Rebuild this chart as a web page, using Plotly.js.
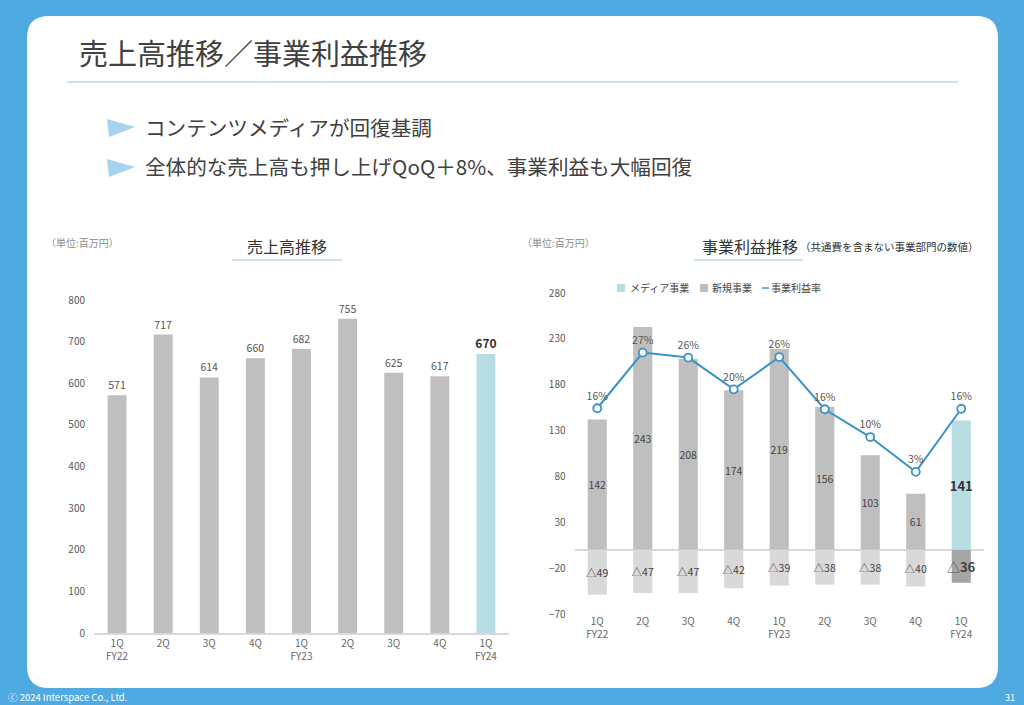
<!DOCTYPE html>
<html>
<head>
<meta charset="utf-8">
<script src="https://cdn.plot.ly/plotly-3.0.1.min.js"></script>
<style>
html,body{margin:0;padding:0;background:#4FAAE2;}
#chart{width:1024px;height:705px;}
</style>
</head>
<body>
<div id="chart"></div>
<script>
// ---- data ----
const quarters = ['1Q','2Q','3Q','4Q','1Q','2Q','3Q','4Q','1Q'];
const fiscalYears = ['FY22','','','','FY23','','','','FY24'];
const sales = [571, 717, 614, 660, 682, 755, 625, 617, 670];
const profitPositive = [142, 243, 208, 174, 219, 156, 103, 61, 141];
const profitNegative = [-49, -47, -47, -42, -39, -38, -38, -40, -36];
const profitRate = [15.8, 27.0, 26.0, 19.6, 26.1, 15.6, 10.0, 3.0, 15.7];
const salesTicks = [0, 100, 200, 300, 400, 500, 600, 700, 800];
const profitTicks = [-70, -20, 30, 80, 130, 180, 230, 280];
const titleText = '売上高推移／事業利益推移';
const bullets = ['コンテンツメディアが回復基調', '全体的な売上高も押し上げQoQ＋8%、事業利益も大幅回復'];
const legendNames = ['メディア事業', '新規事業', '事業利益率'];

// ---- helpers ----
const W = 1024, H = 705;
const X = px => px / W;
const Y = py => 1 - py / H;
const FONT = '"Noto Sans CJK JP", "Noto Sans", sans-serif';
const idx = quarters.map((_, i) => i);
const tickText = quarters.map((q, i) => fiscalYears[i] ? q + '<br>' + fiscalYears[i] : q);
const last = quarters.length - 1;

const GRAY = '#BFBFBF', LIGHTBLUE = '#B8DDE3', NEG = '#D9D9D9', NEGDARK = '#A6A6A6', LINE = '#3A93C8';

// ---- traces ----
const traces = [];
traces.push({
  type: 'bar', x: idx, y: sales, xaxis: 'x', yaxis: 'y', width: 0.41,
  marker: { color: sales.map((v, i) => i === last ? LIGHTBLUE : GRAY) },
  text: sales.map((v, i) => i === last ? '<b>' + v + '</b>' : String(v)),
  textposition: 'outside', cliponaxis: false, constraintext: 'none',
  textfont: { family: FONT, size: sales.map((v, i) => i === last ? 12 : 10.5), color: sales.map((v, i) => i === last ? '#333333' : '#555555') },
  hoverinfo: 'none', showlegend: false
});
traces.push({
  type: 'bar', x: idx, y: profitPositive, xaxis: 'x2', yaxis: 'y2', width: 0.42,
  marker: { color: profitPositive.map((v, i) => i === last ? LIGHTBLUE : GRAY) },
  text: profitPositive.map((v, i) => i === last ? '<b>' + v + '</b>' : String(v)),
  textposition: 'inside', insidetextanchor: 'middle', textangle: 0, constraintext: 'none',
  textfont: { family: FONT, size: profitPositive.map((v, i) => i === last ? 13 : 10.5), color: profitPositive.map((v, i) => i === last ? '#333333' : '#444444') },
  hoverinfo: 'none', showlegend: false
});
traces.push({
  type: 'bar', x: idx, y: profitNegative, xaxis: 'x2', yaxis: 'y2', width: 0.42,
  marker: { color: profitNegative.map((v, i) => i === last ? NEGDARK : NEG) },
  text: profitNegative.map((v, i) => i === last ? '△<b>' + Math.abs(v) + '</b>' : '△' + Math.abs(v)),
  textposition: 'inside', insidetextanchor: 'middle', textangle: 0, constraintext: 'none',
  textfont: { family: FONT, size: profitNegative.map((v, i) => i === last ? 13 : 10.5), color: '#444444' },
  hoverinfo: 'none', showlegend: false
});
traces.push({
  type: 'scatter', mode: 'lines+markers+text', x: idx, y: profitRate, xaxis: 'x2', yaxis: 'y3',
  line: { color: LINE, width: 2 },
  marker: { size: 8, color: '#FFFFFF', line: { color: LINE, width: 1.8 } },
  text: profitRate.map(r => Math.round(r) + '%'),
  textposition: 'top center', cliponaxis: false,
  textfont: { family: FONT, size: 10.5, color: '#555555' },
  hoverinfo: 'none', showlegend: false
});

// ---- layout pieces ----
const r = 22, L = 27, R = 998, T = 16, B = 688;
const panelPath = `M ${X(L + r)},${Y(T)} L ${X(R - r)},${Y(T)} Q ${X(R)},${Y(T)} ${X(R)},${Y(T + r)} ` +
  `L ${X(R)},${Y(B - r)} Q ${X(R)},${Y(B)} ${X(R - r)},${Y(B)} L ${X(L + r)},${Y(B)} Q ${X(L)},${Y(B)} ${X(L)},${Y(B - r)} ` +
  `L ${X(L)},${Y(T + r)} Q ${X(L)},${Y(T)} ${X(L + r)},${Y(T)} Z`;
const tri = cy => `M ${X(107)},${Y(cy - 8)} L ${X(135)},${Y(cy)} L ${X(109)},${Y(cy + 10)} Z`;

const shapes = [
  { type: 'path', xref: 'paper', yref: 'paper', path: panelPath, fillcolor: '#FFFFFF', line: { width: 0 }, layer: 'below' },
  { type: 'line', xref: 'paper', yref: 'paper', x0: X(67), x1: X(958), y0: Y(82), y1: Y(82), line: { color: '#86CBEE', width: 1.2 } },
  { type: 'path', xref: 'paper', yref: 'paper', path: tri(127), fillcolor: '#A5D2EE', line: { width: 0 } },
  { type: 'path', xref: 'paper', yref: 'paper', path: tri(167), fillcolor: '#A5D2EE', line: { width: 0 } },
  { type: 'line', xref: 'paper', yref: 'paper', x0: X(232), x1: X(342), y0: Y(260), y1: Y(260), line: { color: '#C9E5EC', width: 2 } },
  { type: 'line', xref: 'paper', yref: 'paper', x0: X(694), x1: X(803), y0: Y(260), y1: Y(260), line: { color: '#C9E5EC', width: 2 } },
  // legend markers
  { type: 'rect', xref: 'paper', yref: 'paper', x0: X(617), x1: X(625), y0: Y(292), y1: Y(284), fillcolor: LIGHTBLUE, line: { width: 0 } },
  { type: 'rect', xref: 'paper', yref: 'paper', x0: X(700), x1: X(708), y0: Y(292), y1: Y(284), fillcolor: GRAY, line: { width: 0 } },
  { type: 'line', xref: 'paper', yref: 'paper', x0: X(762), x1: X(769), y0: Y(288), y1: Y(288), line: { color: LINE, width: 1.5 } }
];

const ann = (text, px, py, size, color, anchor) => ({
  text, xref: 'paper', yref: 'paper', x: X(px), y: Y(py), xanchor: anchor || 'left', yanchor: 'middle',
  showarrow: false, font: { family: FONT, size, color }
});

const annotations = [
  ann(titleText, 77, 52, 29, '#404040'),
  ann(bullets[0], 143, 127, 20.6, '#404040'),
  ann(bullets[1], 143, 166, 20.6, '#404040'),
  ann('（単位:百万円）', 44, 242, 10, '#8C8C8C'),
  ann('売上高推移', 287, 246, 16, '#333333', 'center'),
  ann('（単位:百万円）', 520, 243, 10, '#8C8C8C'),
  ann('事業利益推移', 750, 246, 16, '#333333', 'center'),
  ann('（共通費を含まない事業部門の数値）', 798, 247, 10.5, '#333333'),
  ann(legendNames[0], 628, 288, 10, '#444444'),
  ann(legendNames[1], 710, 288, 10, '#444444'),
  ann(legendNames[2], 769, 288, 10, '#444444'),
  ann('ⓒ 2024 Interspace Co., Ltd.', 6, 697, 9.5, '#FFFFFF'),
  ann('31', 1017, 697, 9, '#FFFFFF', 'right')
];

const xCommon = {
  range: [-0.5, last + 0.5], tickmode: 'array', tickvals: idx, ticktext: tickText,
  tickfont: { family: FONT, size: 10, color: '#666666' }, showgrid: false, zeroline: false, fixedrange: true, ticks: ''
};
const yCommon = {
  showgrid: false, tickfont: { family: FONT, size: 10, color: '#595959' }, ticks: '', showline: false, ticklabelstandoff: 8, fixedrange: true
};

const rateMin = (-70 - 68.75) / 5.417, rateMax = (280 - 68.75) / 5.417;

const layout = {
  width: W, height: H, margin: { l: 0, r: 0, t: 0, b: 0 },
  paper_bgcolor: '#4FAAE2', plot_bgcolor: 'rgba(0,0,0,0)',
  barmode: 'relative', showlegend: false,
  font: { family: FONT },
  xaxis: Object.assign({}, xCommon, { domain: [X(94), X(509)], anchor: 'y', showline: true, linecolor: '#D9D9D9', linewidth: 1.5 }),
  yaxis: Object.assign({}, yCommon, { domain: [Y(633), Y(300)], range: [0, 800], tickvals: salesTicks, zeroline: false, anchor: 'x' }),
  xaxis2: Object.assign({}, xCommon, { domain: [X(574.5), X(984)], anchor: 'y2', showline: false }),
  yaxis2: Object.assign({}, yCommon, { domain: [Y(614), Y(293)], range: [-70, 280], tickvals: profitTicks, zeroline: true, zerolinecolor: '#D9D9D9', zerolinewidth: 1.5, anchor: 'x2' }),
  yaxis3: { overlaying: 'y2', range: [rateMin, rateMax], visible: false, showgrid: false, zeroline: false, fixedrange: true },
  shapes, annotations
};

Plotly.newPlot('chart', traces, layout, { displayModeBar: false, staticPlot: true });
</script>
</body>
</html>
